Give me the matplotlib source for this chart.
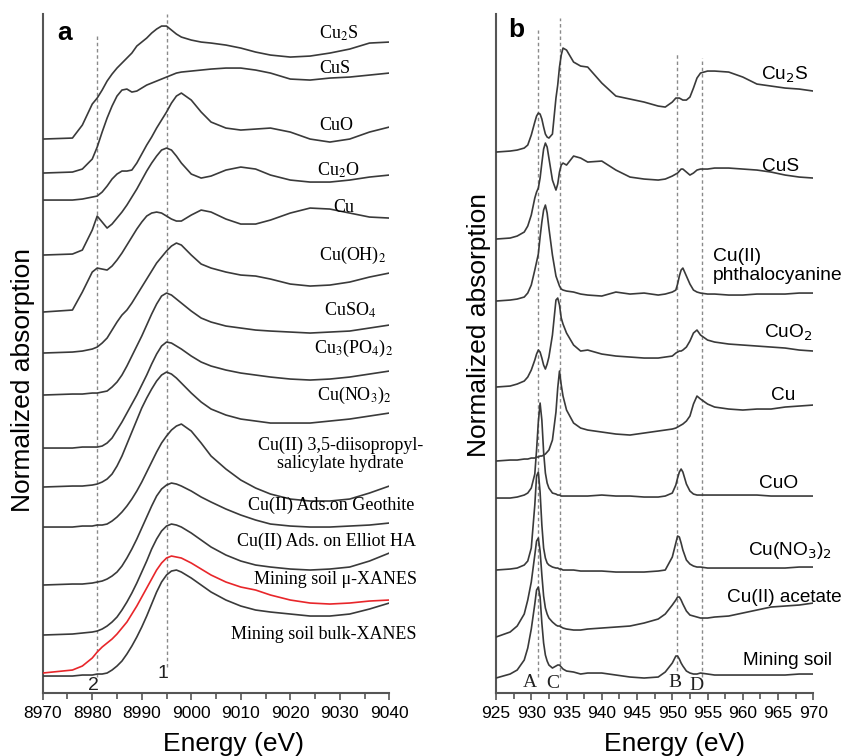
import matplotlib
matplotlib.use("Agg")
import matplotlib.pyplot as plt
from matplotlib.ticker import MultipleLocator

# ---------------- panel a : Cu K-edge XANES (stacked, offset units) ----------------
e_k = [8970, 8976, 8978, 8980, 8981, 8982, 8983, 8984, 8985, 8986, 8987, 8988, 8989,
       8990, 8991, 8992, 8993, 8994, 8995, 8996, 8997, 8998, 9000, 9002, 9004, 9007,
       9010, 9013, 9016, 9020, 9024, 9028, 9032, 9036, 9040]

k_cu2s = [5.54, 5.55, 5.68, 5.89, 5.95, 6.03, 6.12, 6.19, 6.25, 6.30, 6.35, 6.40, 6.47,
          6.51, 6.55, 6.60, 6.64, 6.67, 6.67, 6.63, 6.59, 6.56, 6.53, 6.51, 6.50, 6.48,
          6.45, 6.41, 6.38, 6.36, 6.37, 6.40, 6.44, 6.50, 6.51]
k_cus = [5.20, 5.21, 5.24, 5.34, 5.46, 5.61, 5.75, 5.87, 5.97, 6.03, 6.04, 6.01, 6.02,
         6.05, 6.08, 6.10, 6.12, 6.14, 6.16, 6.18, 6.20, 6.21, 6.22, 6.23, 6.24, 6.25,
         6.25, 6.23, 6.20, 6.14, 6.13, 6.15, 6.16, 6.18, 6.20]
k_cuo = [4.93, 4.93, 4.94, 4.96, 4.97, 5.01, 5.07, 5.14, 5.19, 5.22, 5.22, 5.23, 5.30,
         5.39, 5.48, 5.56, 5.65, 5.73, 5.81, 5.90, 5.97, 6.00, 5.93, 5.81, 5.71, 5.65,
         5.63, 5.64, 5.65, 5.61, 5.54, 5.51, 5.54, 5.61, 5.66]
k_cu2o = [4.38, 4.39, 4.43, 4.63, 4.77, 4.71, 4.65, 4.69, 4.75, 4.81, 4.88, 4.96, 5.04,
          5.13, 5.22, 5.30, 5.37, 5.43, 5.45, 5.43, 5.37, 5.30, 5.19, 5.15, 5.17, 5.23,
          5.26, 5.24, 5.18, 5.13, 5.11, 5.11, 5.13, 5.16, 5.18]
k_cu = [3.81, 3.83, 4.01, 4.21, 4.25, 4.24, 4.23, 4.27, 4.33, 4.40, 4.48, 4.56, 4.64,
        4.71, 4.77, 4.80, 4.81, 4.80, 4.77, 4.74, 4.72, 4.72, 4.78, 4.83, 4.81, 4.74,
        4.69, 4.69, 4.73, 4.80, 4.85, 4.84, 4.80, 4.76, 4.75]
k_cuoh2 = [3.40, 3.41, 3.42, 3.44, 3.46, 3.50, 3.55, 3.63, 3.71, 3.78, 3.83, 3.90, 3.98,
           4.06, 4.14, 4.22, 4.30, 4.36, 4.42, 4.47, 4.50, 4.48, 4.38, 4.29, 4.25, 4.21,
           4.18, 4.17, 4.14, 4.09, 4.07, 4.08, 4.11, 4.16, 4.20]
k_cuso4 = [2.98, 2.99, 2.99, 3.00, 3.00, 3.01, 3.02, 3.06, 3.11, 3.18, 3.27, 3.37, 3.47,
           3.57, 3.68, 3.79, 3.89, 3.97, 4.00, 3.98, 3.94, 3.90, 3.82, 3.75, 3.71, 3.67,
           3.65, 3.63, 3.62, 3.61, 3.60, 3.61, 3.62, 3.65, 3.68]
k_cupo4 = [2.45, 2.45, 2.46, 2.46, 2.46, 2.47, 2.50, 2.55, 2.63, 2.71, 2.80, 2.89, 2.98,
           3.08, 3.18, 3.29, 3.39, 3.47, 3.51, 3.50, 3.47, 3.44, 3.37, 3.31, 3.27, 3.23,
           3.20, 3.18, 3.16, 3.14, 3.13, 3.14, 3.16, 3.19, 3.22]
k_cuno3 = [2.06, 2.07, 2.07, 2.08, 2.09, 2.11, 2.14, 2.19, 2.27, 2.37, 2.49, 2.61, 2.73,
           2.85, 2.95, 3.04, 3.12, 3.18, 3.21, 3.19, 3.15, 3.10, 3.00, 2.91, 2.84, 2.78,
           2.74, 2.72, 2.70, 2.70, 2.70, 2.72, 2.74, 2.77, 2.80]
k_salic = [1.66, 1.66, 1.67, 1.67, 1.68, 1.68, 1.69, 1.72, 1.76, 1.81, 1.87, 1.94, 2.02,
           2.11, 2.21, 2.31, 2.41, 2.50, 2.57, 2.63, 2.67, 2.69, 2.62, 2.50, 2.37, 2.24,
           2.13, 2.05, 1.99, 1.94, 1.92, 1.92, 1.94, 2.00, 2.07]
k_geo = [1.08, 1.09, 1.09, 1.10, 1.11, 1.12, 1.14, 1.17, 1.21, 1.27, 1.35, 1.44, 1.54,
         1.65, 1.76, 1.87, 1.97, 2.04, 2.08, 2.10, 2.09, 2.07, 2.02, 1.96, 1.91, 1.84,
         1.78, 1.73, 1.69, 1.67, 1.66, 1.66, 1.67, 1.68, 1.70]
k_elliot = [0.58, 0.59, 0.60, 0.61, 0.62, 0.64, 0.67, 0.71, 0.76, 0.83, 0.91, 1.00, 1.10,
            1.21, 1.32, 1.44, 1.54, 1.62, 1.67, 1.69, 1.68, 1.66, 1.60, 1.53, 1.46, 1.38,
            1.32, 1.28, 1.26, 1.24, 1.23, 1.24, 1.26, 1.32, 1.40]
k_micro = [0.20, 0.23, 0.27, 0.35, 0.41, 0.46, 0.50, 0.54, 0.59, 0.65, 0.71, 0.79, 0.87,
           0.96, 1.05, 1.14, 1.23, 1.30, 1.35, 1.37, 1.36, 1.35, 1.30, 1.24, 1.18, 1.11,
           1.06, 1.03, 0.98, 0.93, 0.90, 0.89, 0.90, 0.92, 0.93]
k_bulk = [0.17, 0.17, 0.18, 0.18, 0.19, 0.19, 0.20, 0.23, 0.27, 0.32, 0.39, 0.47, 0.56,
          0.66, 0.77, 0.89, 1.01, 1.11, 1.18, 1.22, 1.23, 1.21, 1.15, 1.08, 1.01, 0.93,
          0.87, 0.83, 0.81, 0.79, 0.77, 0.77, 0.79, 0.84, 0.90]

labels_a = ["Cu$_2$S", "CuS", "CuO", "Cu$_2$O", "Cu", "Cu(OH)$_2$", "CuSO$_4$",
            "Cu$_3$(PO$_4$)$_2$", "Cu(NO$_3$)$_2$",
            "Cu(II) 3,5-diisopropyl-\nsalicylate hydrate",
            "Cu(II) Ads.on Geothite", "Cu(II) Ads. on Elliot HA",
            "Mining soil \u03bc-XANES", "Mining soil bulk-XANES"]
label_a_x = [9029.8, 9029.0, 9029.2, 9029.8, 9030.8, 9032.5, 9032.1, 9032.7, 9032.9,
             9030.1, 9028.3, 9027.4, 9029.1, 9026.7]
label_a_y = [6.60, 6.25, 5.68, 5.23, 4.86, 4.38, 3.83, 3.45, 2.98,
             2.39, 1.88, 1.52, 1.14, 0.59]

guide_a = [8981, 8995]
guide_a_top = [6.58, 6.79]
guide_a_bottom = [0.16, 0.26]
guide_a_names = ["2", "1"]
guide_a_name_x = [8980.2, 8994.3]
guide_a_name_y = [0.08, 0.20]

# ---------------- panel b : Cu L-edge XANES ----------------
e_l = [925, 927, 928, 929, 929.5, 930, 930.5, 930.75, 931, 931.25, 931.5, 931.75, 932,
       932.25, 932.5, 933, 933.5, 933.75, 934, 934.25, 934.5, 935, 936, 937, 938, 940,
       942, 944, 946, 948, 949, 950, 950.5, 950.75, 951, 951.25, 951.5, 952, 952.5, 953,
       953.5, 954, 955, 956, 958, 960, 962, 964, 966, 968, 970]

l_cu2s = [5.41, 5.42, 5.43, 5.45, 5.48, 5.58, 5.71, 5.77, 5.80, 5.79, 5.74, 5.66, 5.59,
          5.56, 5.55, 5.59, 5.95, 6.08, 6.26, 6.38, 6.45, 6.43, 6.31, 6.27, 6.26, 6.10,
          5.97, 5.94, 5.91, 5.87, 5.86, 5.91, 5.95, 5.95, 5.95, 5.94, 5.93, 5.93, 5.96,
          6.05, 6.15, 6.20, 6.22, 6.22, 6.21, 6.16, 6.09, 6.07, 6.05, 6.04, 6.02]
l_cus = [4.54, 4.55, 4.57, 4.61, 4.67, 4.78, 4.95, 5.01, 5.05, 5.15, 5.30, 5.44, 5.50,
         5.46, 5.35, 5.13, 5.03, 5.09, 5.21, 5.28, 5.30, 5.28, 5.37, 5.35, 5.31, 5.32,
         5.23, 5.16, 5.14, 5.13, 5.14, 5.17, 5.19, 5.20, 5.22, 5.24, 5.24, 5.21, 5.18,
         5.20, 5.23, 5.24, 5.24, 5.25, 5.25, 5.24, 5.23, 5.21, 5.18, 5.16, 5.15]
l_pc = [3.92, 3.93, 3.94, 3.96, 4.00, 4.08, 4.23, 4.31, 4.39, 4.56, 4.71, 4.83, 4.88,
        4.80, 4.65, 4.38, 4.17, 4.12, 4.07, 4.04, 4.03, 4.02, 4.01, 3.99, 3.98, 3.97,
        4.01, 3.99, 4.00, 3.98, 3.99, 4.01, 4.03, 4.09, 4.17, 4.23, 4.25, 4.17, 4.09,
        4.03, 4.01, 4.00, 3.99, 3.99, 3.98, 3.98, 3.99, 3.99, 3.99, 4.00, 4.00]
l_cuo2 = [3.06, 3.07, 3.09, 3.12, 3.16, 3.23, 3.33, 3.39, 3.43, 3.41, 3.35, 3.28, 3.24,
          3.29, 3.36, 3.58, 3.93, 3.95, 3.88, 3.75, 3.69, 3.60, 3.48, 3.42, 3.43, 3.39,
          3.37, 3.36, 3.35, 3.35, 3.36, 3.37, 3.40, 3.41, 3.42, 3.42, 3.43, 3.46, 3.52,
          3.60, 3.63, 3.58, 3.53, 3.51, 3.49, 3.48, 3.47, 3.46, 3.45, 3.43, 3.42]
l_cu = [2.32, 2.33, 2.33, 2.34, 2.34, 2.35, 2.35, 2.36, 2.36, 2.37, 2.37, 2.38, 2.39,
        2.41, 2.43, 2.53, 2.81, 3.05, 3.22, 3.08, 2.97, 2.83, 2.70, 2.65, 2.63, 2.61,
        2.59, 2.58, 2.60, 2.62, 2.63, 2.64, 2.65, 2.66, 2.67, 2.68, 2.69, 2.72, 2.77,
        2.89, 2.97, 2.94, 2.89, 2.86, 2.84, 2.83, 2.84, 2.84, 2.86, 2.87, 2.88]
l_cuo = [1.95, 1.95, 1.96, 1.98, 2.00, 2.05, 2.19, 2.43, 2.71, 2.90, 2.73, 2.41, 2.20,
         2.10, 2.05, 2.00, 1.99, 1.98, 1.98, 1.97, 1.97, 1.97, 1.97, 1.97, 1.97, 1.98,
         1.97, 1.97, 1.96, 1.96, 1.97, 2.00, 2.08, 2.15, 2.21, 2.24, 2.21, 2.09, 2.02,
         1.99, 1.98, 1.98, 1.98, 1.98, 1.98, 1.98, 1.98, 1.97, 1.97, 1.97, 1.97]
l_cuno3 = [1.23, 1.24, 1.25, 1.28, 1.32, 1.45, 1.88, 2.17, 2.21, 2.01, 1.68, 1.45, 1.35,
           1.30, 1.28, 1.26, 1.25, 1.25, 1.24, 1.24, 1.23, 1.23, 1.23, 1.22, 1.22, 1.22,
           1.21, 1.21, 1.21, 1.22, 1.23, 1.36, 1.50, 1.57, 1.56, 1.50, 1.43, 1.33, 1.29,
           1.27, 1.26, 1.26, 1.25, 1.25, 1.25, 1.25, 1.25, 1.25, 1.25, 1.26, 1.26]
l_acet = [0.56, 0.61, 0.67, 0.79, 0.93, 1.11, 1.38, 1.52, 1.55, 1.42, 1.18, 0.97, 0.85,
          0.79, 0.75, 0.71, 0.68, 0.67, 0.67, 0.66, 0.65, 0.64, 0.63, 0.63, 0.64, 0.65,
          0.66, 0.67, 0.70, 0.74, 0.79, 0.88, 0.93, 0.96, 0.96, 0.93, 0.89, 0.82, 0.78,
          0.77, 0.76, 0.75, 0.75, 0.76, 0.77, 0.80, 0.83, 0.86, 0.87, 0.88, 0.90]
l_soil = [0.15, 0.19, 0.23, 0.33, 0.45, 0.64, 0.89, 1.03, 1.06, 0.96, 0.70, 0.50, 0.38,
          0.32, 0.28, 0.25, 0.27, 0.28, 0.28, 0.26, 0.24, 0.22, 0.21, 0.19, 0.20, 0.20,
          0.18, 0.16, 0.15, 0.16, 0.21, 0.30, 0.37, 0.37, 0.34, 0.30, 0.27, 0.22, 0.20,
          0.19, 0.19, 0.20, 0.19, 0.18, 0.18, 0.18, 0.18, 0.18, 0.18, 0.19, 0.19]

labels_b = ["Cu$_2$S", "CuS", "CuO$_2$", "Cu", "CuO", "Cu(NO$_3$)$_2$",
            "Cu(II) acetate", "Mining soil"]
label_b_x = [966.0, 965.3, 966.4, 965.7, 965.0, 966.7, 965.9, 966.3]
label_b_y = [6.18, 5.27, 3.60, 2.98, 2.10, 1.43, 0.96, 0.33]
pc_label = "Cu(II)\nphthalocyanine"
pc_label_x, pc_label_y = 955.8, 4.27

guide_b = [930.9, 934.1, 950.7, 954.2]
guide_b_top = [6.63, 6.75, 6.40, 6.35]
guide_b_bottom = [0.16, 0.16, 0.16, 0.16]
guide_b_names = ["A", "C", "B", "D"]
guide_b_name_x = [929.8, 933.1, 950.4, 953.4]
guide_b_name_y = [0.11, 0.10, 0.11, 0.08]

# ---------------- drawing ----------------
plt.rcParams["font.family"] = ["Liberation Sans", "DejaVu Sans"]
line_col = "#3a3a3a"
guide_col = "#8a8a8a"

fig = plt.figure(figsize=(8.43, 7.56), dpi=100)
ax_a = fig.add_axes([0.0507, 0.0833, 0.4111, 0.8981])
ax_b = fig.add_axes([0.5884, 0.0833, 0.3764, 0.8981])

curves_a = [k_cu2s, k_cus, k_cuo, k_cu2o, k_cu, k_cuoh2, k_cuso4, k_cupo4, k_cuno3,
            k_salic, k_geo, k_elliot, k_micro, k_bulk]
for y in curves_a:
    col = "#e8262a" if y is k_micro else line_col
    ax_a.plot(e_k, y, color=col, lw=1.2, zorder=3)
for lab, lx, ly in zip(labels_a, label_a_x, label_a_y):
    ax_a.text(lx, ly, lab, ha="center", va="center", fontsize=13,
              family="Liberation Serif", math_fontfamily="stix",
              linespacing=1.05, clip_on=False)
ax_a.vlines(guide_a, guide_a_bottom, guide_a_top, colors=guide_col, lw=1.0,
            linestyles=(0, (2.5, 2)), zorder=1, clip_on=False)
for n, nx, ny in zip(guide_a_names, guide_a_name_x, guide_a_name_y):
    ax_a.text(nx, ny, n, ha="center", va="center", fontsize=14, color="#222222")

curves_b = [l_cu2s, l_cus, l_pc, l_cuo2, l_cu, l_cuo, l_cuno3, l_acet, l_soil]
for y in curves_b:
    ax_b.plot(e_l, y, color=line_col, lw=1.2, zorder=3)
for lab, lx, ly in zip(labels_b, label_b_x, label_b_y):
    ax_b.text(lx, ly, lab, ha="center", va="center", fontsize=13.7,
              math_fontfamily="dejavusans", clip_on=False)
ax_b.text(pc_label_x, pc_label_y, pc_label, ha="left", va="center", fontsize=13.9,
          linespacing=1.1, clip_on=False)
ax_b.vlines(guide_b, guide_b_bottom, guide_b_top, colors=guide_col, lw=1.0,
            linestyles=(0, (2.5, 2)), zorder=1, clip_on=False)
for n, nx, ny in zip(guide_b_names, guide_b_name_x, guide_b_name_y):
    ax_b.text(nx, ny, n, ha="center", va="center", fontsize=14,
              family="Liberation Serif", color="#222222")

for ax, xl, step, minor in [(ax_a, (8970, 9040), 10, 5), (ax_b, (925, 970), 5, 2.5)]:
    ax.set_xlim(*xl)
    ax.set_ylim(0, 6.79)
    ax.xaxis.set_major_locator(MultipleLocator(step))
    ax.xaxis.set_minor_locator(MultipleLocator(minor))
    ax.set_yticks([])
    for s in ["top", "right"]:
        ax.spines[s].set_visible(False)
    for s in ["left", "bottom"]:
        ax.spines[s].set_linewidth(1.5)
        ax.spines[s].set_color("#555555")
    ax.tick_params(axis="x", which="major", direction="out", length=5, width=1.2,
                   color="#555555", labelsize=12.5, pad=4)
    ax.tick_params(axis="x", which="minor", direction="out", length=4, width=1.2,
                   color="#555555")
    ax.set_xlabel("Energy (eV)", fontsize=19)
    ax.set_ylabel("Normalized absorption", fontsize=19)

ax_a.xaxis.set_label_coords(0.549, -0.058)
ax_b.xaxis.set_label_coords(0.564, -0.058)
ax_a.yaxis.set_label_coords(-0.022, 0.461)
ax_b.yaxis.set_label_coords(-0.017, 0.542)

ax_a.text(0.062, 0.972, "a", transform=ax_a.transAxes, fontsize=19,
          fontweight="bold", ha="center", va="center")
ax_b.text(0.063, 0.976, "b", transform=ax_b.transAxes, fontsize=19,
          fontweight="bold", ha="center", va="center")

fig.savefig("out.png", dpi=100)
